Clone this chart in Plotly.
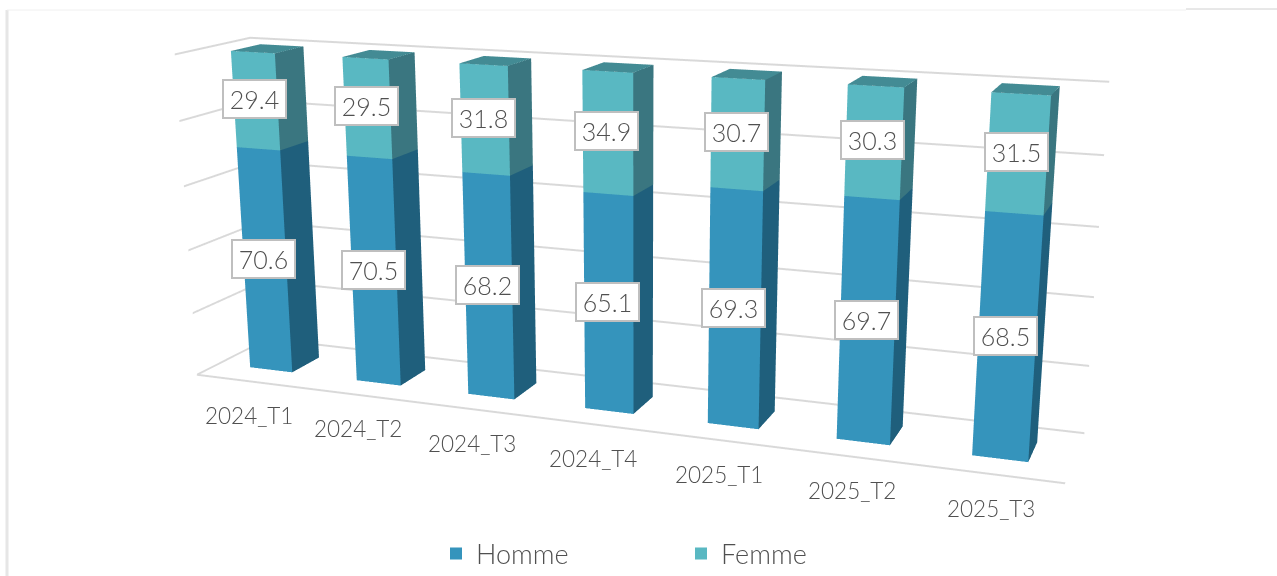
import math
import plotly.graph_objects as go

categories = ["2024_T1", "2024_T2", "2024_T3", "2024_T4", "2025_T1", "2025_T2", "2025_T3"]
homme = [70.6, 70.5, 68.2, 65.1, 69.3, 69.7, 68.5]
femme = [29.4, 29.5, 31.8, 34.9, 30.7, 30.3, 31.5]

C_HOMME = ("#3594BC", "#1F5F7C", "#1F5F7C")
C_FEMME = ("#59B8C2", "#3A7680", "#438B94")
GRID = "#D9D9D9"
TEXT = "#505050"
FONT = "Lato"

W, H, TOP = 1277, 1488, 443   # tall canvas gives the reference's weak perspective
BAR_X, BAR_Y0, BAR_Y1 = 0.2, 0.3, 0.7

# camera, in degrees and screen pixels
YAW, PITCH, ROLL = 20.3, 15.6, 0.0065
DIST = 3.03
BOX_PX, BOX_PY = 618.75, 239.3
FOCAL = H / 2 / math.tan(math.pi / 8)
PRINCIPAL_X, PRINCIPAL_Y = W / 2, H / 2 - TOP


def camera():
    sy, cy = math.sin(math.radians(YAW)), math.cos(math.radians(YAW))
    sp, cp = math.sin(math.radians(PITCH)), math.cos(math.radians(PITCH))
    r = (cy, sy, 0)
    F = (-sy * cp, cy * cp, -sp)
    u = (-sy * sp, cy * sp, cp)
    xc = (BOX_PX - PRINCIPAL_X) / FOCAL * DIST
    yc = (PRINCIPAL_Y - BOX_PY) / FOCAL * DIST
    E = [-(DIST * F[i] + xc * r[i] + yc * u[i]) for i in range(3)]
    k = 2.9
    C = [E[i] + k * F[i] for i in range(3)]
    up = [-ROLL * cp * r[0], -ROLL * cp * r[1], 1]
    return dict(
        eye=dict(x=E[0], y=E[1], z=E[2]),
        center=dict(x=C[0], y=C[1], z=C[2]),
        up=dict(x=up[0], y=up[1], z=up[2]),
        projection=dict(type="perspective"),
    )


def py(pixel):
    return 1 - (pixel + TOP) / H


def px(pixel):
    return pixel / W


def segments(base, height, colors, name):
    xs, ys, zs, ii, jj, kk, fc = [], [], [], [], [], [], []
    for n, (b, h) in enumerate(zip(base, height)):
        x0, x1 = n - BAR_X, n + BAR_X
        y0, y1 = BAR_Y0, BAR_Y1
        z0, z1 = b, b + h
        o = len(xs)
        xs += [x0, x1, x1, x0, x0, x1, x1, x0]
        ys += [y0, y0, y1, y1, y0, y0, y1, y1]
        zs += [z0, z0, z0, z0, z1, z1, z1, z1]
        faces = [
            ((0, 1, 5), colors[0]), ((0, 5, 4), colors[0]),   # front
            ((1, 2, 6), colors[1]), ((1, 6, 5), colors[1]),   # right
            ((4, 5, 6), colors[2]), ((4, 6, 7), colors[2]),   # top
        ]
        for (a, c, d), col in faces:
            ii.append(o + a)
            jj.append(o + c)
            kk.append(o + d)
            fc.append(col)
    return go.Mesh3d(
        x=xs, y=ys, z=zs, i=ii, j=jj, k=kk, facecolor=fc, flatshading=True, name=name,
        showlegend=False, hoverinfo="skip",
        lighting=dict(ambient=1, diffuse=0, specular=0, fresnel=0, roughness=1),
    )


fig = go.Figure()
fig.add_trace(segments([0] * len(homme), homme, C_HOMME, "Homme"))
fig.add_trace(segments(homme, femme, C_FEMME, "Femme"))
for name, col in (("Homme", C_HOMME[0]), ("Femme", C_FEMME[0])):
    fig.add_trace(go.Scatter3d(x=[None], y=[None], z=[None], mode="markers", name=name,
                               marker=dict(symbol="square", size=12, color=col)))

ann = []
for n, cat in enumerate(categories):
    ann.append(dict(x=n, y=0, z=0, text=cat, showarrow=False, xshift=-1, yshift=-34,
                    font=dict(family=FONT, size=22.5, color=TEXT, weight=300)))
    for base, val in ((0, homme[n]), (homme[n], femme[n])):
        ann.append(dict(x=n, y=BAR_Y0, z=base + val / 2, text=f"{val:.1f}", showarrow=False,
                        xshift=-1, yshift=2,
                        bgcolor="white", bordercolor="#BFBFBF", borderwidth=2, borderpad=5,
                        width=51, height=26,
                        font=dict(family=FONT, size=25, color=TEXT, weight=300)))

ax = dict(showbackground=False, showticklabels=False, ticks="", title="", showspikes=False,
          zeroline=False)
fig.update_layout(
    width=W, height=H, margin=dict(l=0, r=0, t=0, b=0), paper_bgcolor="white",
    font=dict(family=FONT, color=TEXT),
    scene=dict(
        domain=dict(x=[0, 1], y=[0, 1]),
        xaxis=dict(ax, range=[-0.5, 6.5], showgrid=False, showline=True, linecolor=GRID, linewidth=4),
        yaxis=dict(ax, range=[0, 1], showgrid=False, showline=False),
        zaxis=dict(ax, range=[0, 100], dtick=20, showgrid=True, gridcolor=GRID, gridwidth=4, showline=False),
        aspectmode="manual", aspectratio=dict(x=1.548, y=0.24, z=0.581),
        camera=camera(),
        annotations=ann,
    ),
    showlegend=True,
    legend=dict(orientation="h", x=px(436), y=py(554), xanchor="left", yanchor="middle",
                entrywidth=200, entrywidthmode="pixels", itemwidth=30, bgcolor="rgba(0,0,0,0)",
                font=dict(family=FONT, size=27, color=TEXT, weight=300)),
    shapes=[
        dict(type="line", xref="paper", yref="paper", x0=px(7), x1=px(7), y0=py(10), y1=py(576),
             line=dict(color="#E6E6E6", width=3)),
        dict(type="line", xref="paper", yref="paper", x0=px(7), x1=px(1186), y0=py(10), y1=py(10),
             line=dict(color="#F0F0F0", width=1)),
        dict(type="line", xref="paper", yref="paper", x0=px(1186), x1=px(1277), y0=py(9), y1=py(9),
             line=dict(color="#D0D0D0", width=1)),
    ],
)

post = """
var gd = document.getElementById('{plot_id}');
gd.style.position = 'absolute';
gd.style.left = '0px';
gd.style.top = '-%dpx';
document.documentElement.style.overflow = 'hidden';
document.body.style.overflow = 'hidden';
""" % TOP
fig.write_html("out.html", post_script=post, config=dict(responsive=False, displayModeBar=False))
